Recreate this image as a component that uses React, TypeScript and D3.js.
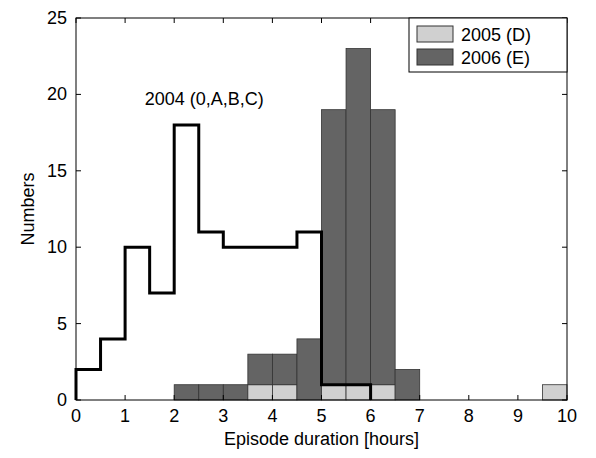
import * as d3 from "d3"

const binStarts = [0, 0.5, 1, 1.5, 2, 2.5, 3, 3.5, 4, 4.5, 5, 5.5, 6, 6.5, 7, 7.5, 8, 8.5, 9, 9.5]
const counts2005 = [0, 0, 0, 0, 0, 0, 0, 1, 1, 0, 1, 1, 1, 0, 0, 0, 0, 0, 0, 1]
const counts2006 = [0, 0, 0, 0, 1, 1, 1, 2, 2, 4, 18, 22, 18, 2, 0, 0, 0, 0, 0, 0]
const counts2004 = [2, 4, 10, 7, 18, 11, 10, 10, 10, 11, 1, 1]
const xTicks = [0, 1, 2, 3, 4, 5, 6, 7, 8, 9, 10]
const yTicks = [0, 5, 10, 15, 20, 25]

export default function App() {
  const W = 596, H = 458
  const x = d3.scaleLinear().domain([0, 10]).range([76, 567])
  const y = d3.scaleLinear().domain([0, 25]).range([400, 18])
  const font = "Liberation Sans, Arial, sans-serif"
  const bw = 0.5
  const pts: [number, number][] = [[0, 0]]
  counts2004.forEach((c, i) => {
    pts.push([binStarts[i], c])
    pts.push([binStarts[i] + bw, c])
  })
  pts.push([binStarts[counts2004.length - 1] + bw, 0])
  const line = d3.line<[number, number]>().x((d) => x(d[0])).y((d) => y(d[1]))
  const [x0, x1] = x.range()
  const [y0, y1] = y.range()
  return (
    <svg width={W} height={H} style={{ position: "absolute", left: 0, top: 0, background: "#fff" }} fontFamily={font}>
      {binStarts.map((b, i) => (
        <g key={b}>
          {counts2005[i] > 0 && (
            <rect x={x(b)} width={x(b + bw) - x(b)} y={y(counts2005[i])} height={y(0) - y(counts2005[i])} fill="#d0d0d0" stroke="#333" strokeWidth={0.8} />
          )}
          {counts2006[i] > 0 && (
            <rect x={x(b)} width={x(b + bw) - x(b)} y={y(counts2005[i] + counts2006[i])} height={y(counts2005[i]) - y(counts2005[i] + counts2006[i])} fill="#646464" stroke="#333" strokeWidth={0.8} />
          )}
        </g>
      ))}
      <path d={line(pts) ?? ""} fill="none" stroke="#000" strokeWidth={3} />
      <rect x={x0} y={y1} width={x1 - x0} height={y0 - y1} fill="none" stroke="#000" strokeWidth={1} />
      {xTicks.map((t) => (
        <g key={t}>
          <line x1={x(t)} x2={x(t)} y1={y0} y2={y0 - 5} stroke="#000" />
          <line x1={x(t)} x2={x(t)} y1={y1} y2={y1 + 5} stroke="#000" />
          <text x={x(t)} y={y0 + 22} textAnchor="middle" fontSize={18}>{t}</text>
        </g>
      ))}
      {yTicks.map((t) => (
        <g key={t}>
          <line x1={x0} x2={x0 + 5} y1={y(t)} y2={y(t)} stroke="#000" />
          <line x1={x1} x2={x1 - 5} y1={y(t)} y2={y(t)} stroke="#000" />
          <text x={x0 - 9} y={y(t) + 6} textAnchor="end" fontSize={18}>{t}</text>
        </g>
      ))}
      <text x={(x0 + x1) / 2} y={y0 + 45} textAnchor="middle" fontSize={18}>Episode duration [hours]</text>
      <text transform={`translate(${x0 - 42},${(y0 + y1) / 2}) rotate(-90)`} textAnchor="middle" fontSize={18}>Numbers</text>
      <text x={x(1.4)} y={y(19.3)} fontSize={18}>2004 (0,A,B,C)</text>
      <g transform={`translate(${x1 - 158},${y1})`}>
        <rect width={158} height={54} fill="#fff" stroke="#000" />
        <rect x={8} y={8} width={36} height={16} fill="#d0d0d0" stroke="#333" />
        <text x={52} y={23} fontSize={18}>2005 (D)</text>
        <rect x={8} y={31} width={36} height={16} fill="#646464" stroke="#333" />
        <text x={52} y={46} fontSize={18}>2006 (E)</text>
      </g>
    </svg>
  )
}
